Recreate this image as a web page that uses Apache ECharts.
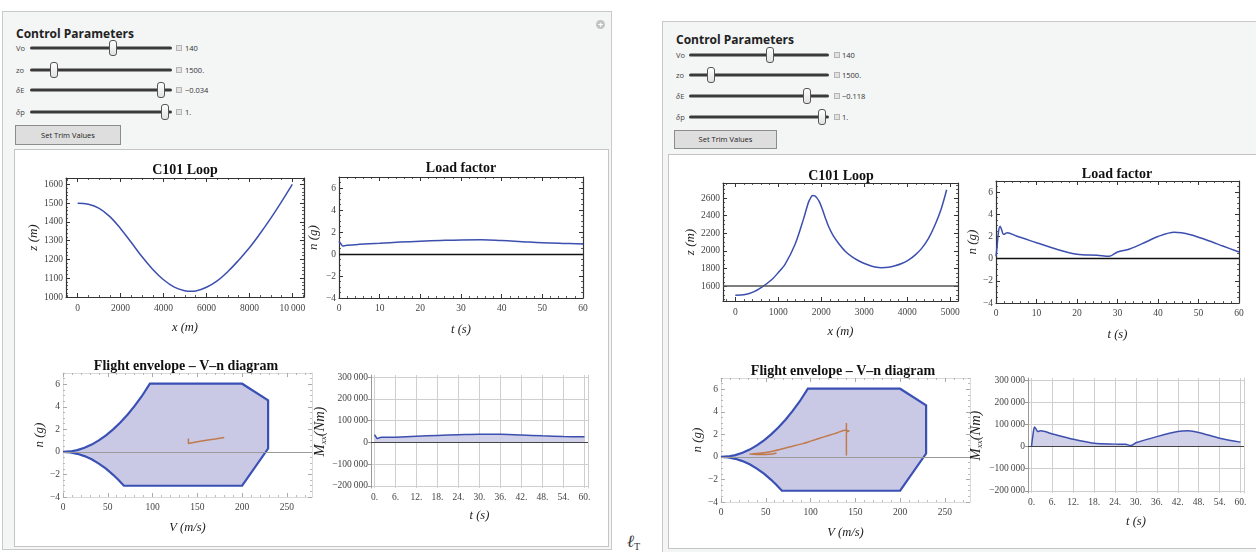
<!DOCTYPE html>
<html><head><meta charset="utf-8">
<script src="https://cdn.jsdelivr.net/npm/echarts@6.0.0/dist/echarts.min.js"></script>
<style>
html,body{margin:0;padding:0;background:#fff;}
body{width:1256px;height:552px;overflow:hidden;position:relative;font-family:"Open Sans","Noto Sans",sans-serif;}
.panel{position:absolute;background:#f4f5f5;border:1px solid #c9c9c9;box-sizing:border-box;}
.inner{position:absolute;background:#fff;border:1px solid #c4c4c4;box-sizing:border-box;}
.ptitle{position:absolute;font-weight:700;font-size:12px;color:#222;white-space:nowrap;line-height:14px;}
.lbl{position:absolute;font-size:7.5px;color:#444;transform:translateY(-50%);line-height:10px;}
.track{position:absolute;height:3px;background:#3a3a3a;border-radius:2px;transform:translateY(-50%);}
.thumb{position:absolute;width:8px;height:16px;border:1px solid #555;border-radius:3px;background:linear-gradient(#fff,#e2e2e2);box-sizing:border-box;transform:translate(-50%,-50%);}
.box{position:absolute;width:6px;height:6px;border:1px solid #b5b5b5;background:#e2e2e2;box-sizing:border-box;transform:translateY(-50%);}
.val{position:absolute;font-size:7.5px;color:#333;transform:translateY(-50%);line-height:10px;white-space:nowrap;}
.btn{position:absolute;background:#dedede;border:1px solid #8c8c8c;box-sizing:border-box;font-size:7.5px;color:#222;text-align:center;}
.plus{position:absolute;width:9px;height:9px;border-radius:50%;background:#c2c2c2;color:#fff;font-size:9px;line-height:9px;text-align:center;font-weight:700;}
#c{position:absolute;left:0;top:0;width:1256px;height:552px;}
</style></head><body>
<!-- left panel -->
<div class="panel" style="left:2px;top:11px;width:610px;height:539px"></div>
<div class="plus" style="left:596px;top:20px">+</div>
<div class="ptitle" style="left:16px;top:27px">Control Parameters</div>
<div class="lbl" style="left:16px;top:48px">Vo</div>
<div class="track" style="left:30px;top:48px;width:142px"></div>
<div class="thumb" style="left:113px;top:48px"></div>
<div class="box" style="left:176px;top:48px"></div>
<div class="val" style="left:185px;top:48px">140</div>
<div class="lbl" style="left:16px;top:70px">zo</div>
<div class="track" style="left:30px;top:70px;width:142px"></div>
<div class="thumb" style="left:54px;top:70px"></div>
<div class="box" style="left:176px;top:70px"></div>
<div class="val" style="left:185px;top:70px">1500.</div>
<div class="lbl" style="left:16px;top:90px"><i>δ</i>E</div>
<div class="track" style="left:30px;top:90px;width:142px"></div>
<div class="thumb" style="left:161px;top:90px"></div>
<div class="box" style="left:176px;top:90px"></div>
<div class="val" style="left:185px;top:90px">&minus;0.034</div>
<div class="lbl" style="left:16px;top:112px"><i>δ</i>p</div>
<div class="track" style="left:30px;top:112px;width:142px"></div>
<div class="thumb" style="left:165px;top:112px"></div>
<div class="box" style="left:176px;top:112px"></div>
<div class="val" style="left:185px;top:112px">1.</div>
<div class="btn" style="left:15px;top:125px;width:106px;height:20px;line-height:18px">Set Trim Values</div>
<div class="inner" style="left:14px;top:149px;width:595px;height:398px"></div>

<!-- right panel -->
<div class="panel" style="left:662px;top:21px;width:600px;height:540px"></div>
<div class="ptitle" style="left:676px;top:33px">Control Parameters</div>
<div class="lbl" style="left:676px;top:55px">Vo</div>
<div class="track" style="left:689px;top:55px;width:140px"></div>
<div class="thumb" style="left:770px;top:55px"></div>
<div class="box" style="left:834px;top:55px"></div>
<div class="val" style="left:842px;top:55px">140</div>
<div class="lbl" style="left:676px;top:75px">zo</div>
<div class="track" style="left:689px;top:75px;width:140px"></div>
<div class="thumb" style="left:711px;top:75px"></div>
<div class="box" style="left:834px;top:75px"></div>
<div class="val" style="left:842px;top:75px">1500.</div>
<div class="lbl" style="left:676px;top:96px"><i>δ</i>E</div>
<div class="track" style="left:689px;top:96px;width:140px"></div>
<div class="thumb" style="left:807px;top:96px"></div>
<div class="box" style="left:834px;top:96px"></div>
<div class="val" style="left:842px;top:96px">&minus;0.118</div>
<div class="lbl" style="left:676px;top:117px"><i>δ</i>p</div>
<div class="track" style="left:689px;top:117px;width:140px"></div>
<div class="thumb" style="left:822px;top:117px"></div>
<div class="box" style="left:834px;top:117px"></div>
<div class="val" style="left:842px;top:117px">1.</div>
<div class="btn" style="left:674px;top:130px;width:103px;height:19px;line-height:17px">Set Trim Values</div>
<div class="inner" style="left:668px;top:154px;width:600px;height:395px"></div>

<div style="position:absolute;left:627px;top:532px;font:italic 17px 'Liberation Serif',serif;color:#333">ℓ<span style="font-size:10px;font-style:normal;vertical-align:-3px">T</span></div>

<div id="c"></div>
<script>
// ---------------- data ----------------
const loopXA = [0,500,1000,1500,2000,2500,3000,3500,4000,4500,5000,5250,5500,6000,6500,7000,7500,8000,8500,9000,9500,10000];
const loopZA = [1500,1494,1472,1428,1364,1290,1214,1147,1092,1053,1033,1030,1032,1052,1086,1136,1196,1262,1338,1420,1508,1600];
const loopXB = [0,231,425,618,850,1000,1160,1393,1587,1650,1703,1750,1800,1850,1896,1950,2012,2090,2167,2280,2399,2550,2709,2900,3096,3250,3406,3560,3715,3870,4025,4180,4334,4490,4644,4790,4915];
const loopZB = [1497,1505,1535,1589,1676,1755,1851,2079,2364,2470,2554,2600,2630,2624,2602,2562,2490,2380,2280,2170,2088,2000,1935,1880,1840,1818,1809,1814,1832,1858,1896,1952,2029,2140,2295,2480,2694];

const lfTA = [0,0.5,1,1.5,2,5,10,15,20,25,30,35,40,45,50,55,60];
const lfNA = [1.16,0.9,0.72,0.76,0.8,0.88,0.98,1.08,1.16,1.23,1.28,1.29,1.22,1.12,1.02,0.96,0.92];
const lfTB = [0,0.3,0.6,1,1.4,1.8,2.3,2.8,5,10,15,20,25,28,30,33,37,40,44,48,52,56,60];
const lfNB = [0.2,1.2,2.4,2.93,2.6,2.2,2.25,2.34,2.04,1.44,0.84,0.39,0.3,0.21,0.6,0.87,1.5,2.0,2.37,2.16,1.68,1.14,0.6];

const envV = [0,8,16,24,32,40,48,56,64,72,80,88,97,200,229,229,200,68,62,56,48,40,32,24,16,8,0];
const envN = [0,0.04,0.16,0.37,0.65,1.02,1.47,2.0,2.61,3.3,4.08,4.94,6.05,6.05,4.57,0.3,-3.0,-3.0,-2.49,-2.03,-1.49,-1.04,-0.66,-0.37,-0.17,-0.04,0];

const trajVA = [140,140,141,150,160,170,180];
const trajNA = [1.19,0.74,0.78,0.9,1.03,1.15,1.28];
const trajVB = [140,140,140,143,138,130,120,110,100,92,80,70,60,50,40,32,40,50,57,62];
const trajNB = [0.12,3.0,2.2,2.3,2.37,2.15,1.9,1.65,1.4,1.2,0.95,0.75,0.55,0.4,0.3,0.25,0.22,0.22,0.25,0.35];

const mxTA = [0,0.4,0.8,1.2,2,6,12,18,24,30,36,42,48,54,60];
const mxMA = [35000,26000,18000,20000,23000,24000,28000,32000,35000,37500,37000,34000,30000,27000,25500];
const mxTB = [0,0.4,0.86,1.3,1.8,2.6,6,12,18,24,27,28.5,30,36,42,45,48,54,60];
const mxMB = [0,50000,88000,80000,68000,71000,57000,33000,15000,11000,10000,5000,17000,45000,68000,71000,64000,38000,20000];

const loopXTicksA = [0,2000,4000,6000,8000,10000];
const loopZTicksA = [1000,1100,1200,1300,1400,1500,1600];
const loopXTicksB = [0,1000,2000,3000,4000,5000];
const loopZTicksB = [1600,1800,2000,2200,2400,2600];
const timeTicks = [0,10,20,30,40,50,60];
const nTicks = [-4,-2,0,2,4,6];
const vTicks = [0,50,100,150,200,250];
const mTimeTicks = [0,6,12,18,24,30,36,42,48,54,60];
const mTicks = [-200000,-100000,0,100000,200000,300000];

// ---------------- helpers ----------------
const BLUE = '#3c4fae', FILL = '#c9c9e6', BROWN = '#c07a4c';
const SERIF = '"Liberation Serif","DejaVu Serif",serif';
const grid = [], xAxis = [], yAxis = [], series = [], graphic = [];
const zip = (a,b) => a.map((v,i)=>[v,b[i]]);
function fmtNum(v){
  const s = String(Math.abs(v));
  const o = s.length >= 5 ? s.replace(/\B(?=(\d{3})+(?!\d))/g, '\u2009') : s;
  return (v < 0 ? '\u2212' : '') + o;
}
function minorTicks(min,max,step,majors){
  const r=[]; const s=Math.ceil(min/step);
  for(let k=s;k*step<=max+1e-9;k++){const v=+(k*step).toFixed(6); if(!majors.some(m=>Math.abs(m-v)<1e-9)) r.push(v);}
  return r;
}
const NAME = {fontFamily:SERIF,fontStyle:'italic',fontSize:12.5,color:'#222'};
const LAB = {show:true,color:'#444',fontFamily:SERIF,fontSize:9.5};
function base(gi,min,max,pos){
  return {type:'value',gridIndex:gi,min,max,position:pos,silent:true,
    splitLine:{show:false},axisLine:{show:false,onZero:false},axisTick:{show:false},axisLabel:{show:false}};
}
function addFrame(rect,xr,yr,o){
  const gi=grid.length;
  grid.push({left:rect[0],top:rect[1],width:rect[2],height:rect[3]});
  const xi=xAxis.length, yi=yAxis.length;
  const lc=o.lineColor||'#333', tc=o.tickColor||'#333';
  const xMin=minorTicks(xr[0],xr[1],o.xStep,o.xMajor), yMin=minorTicks(yr[0],yr[1],o.yStep,o.yMajor);
  [['bottom',true],['top',false]].forEach(([pos,lab])=>{
    const a=base(gi,xr[0],xr[1],pos);
    a.axisLine={show:true,onZero:false,lineStyle:{color:lc,width:o.lw||1.2}};
    a.axisTick={show:true,inside:true,length:4,customValues:o.xMajor,lineStyle:{color:tc,width:1}};
    if(lab){
      a.axisLabel=Object.assign({},LAB,{customValues:o.xMajor,formatter:o.xFmt||fmtNum,margin:o.xMargin||5});
      a.name=o.xName; a.nameLocation='middle'; a.nameGap=o.xGap; a.nameTextStyle=NAME;
    }
    xAxis.push(a);
    const m=base(gi,xr[0],xr[1],pos);
    m.axisTick={show:true,inside:true,length:2,customValues:xMin,lineStyle:{color:tc,width:0.8}};
    xAxis.push(m);
  });
  [['left',true],['right',false]].forEach(([pos,lab])=>{
    const a=base(gi,yr[0],yr[1],pos);
    a.axisLine={show:true,onZero:false,lineStyle:{color:lc,width:o.lw||1.2}};
    a.axisTick={show:true,inside:true,length:4,customValues:o.yMajor,lineStyle:{color:tc,width:1}};
    if(lab){
      a.axisLabel=Object.assign({},LAB,{customValues:o.yMajor,formatter:o.yFmt||fmtNum,margin:o.yMargin||3});
      a.name=o.yName; a.nameLocation='middle'; a.nameGap=o.yGap; a.nameTextStyle=Object.assign({},NAME,{fontSize:13});
    }
    yAxis.push(a);
    const m=base(gi,yr[0],yr[1],pos);
    m.axisTick={show:true,inside:true,length:2,customValues:yMin,lineStyle:{color:tc,width:0.8}};
    yAxis.push(m);
  });
  return {xi,yi};
}
function addMxx(rect,xr,yr,o){
  const gi=grid.length;
  grid.push({left:rect[0],top:rect[1],width:rect[2],height:rect[3]});
  const xi=xAxis.length, yi=yAxis.length;
  const xa=base(gi,xr[0],xr[1],'bottom');
  xa.axisTick={show:false,customValues:mTimeTicks};
  xa.splitLine={show:true,lineStyle:{color:'#cfcfcf',width:1}};
  xa.axisLabel=Object.assign({},LAB,{customValues:mTimeTicks,formatter:v=>v+'.',margin:4});
  xa.name='t (s)'; xa.nameLocation='middle'; xa.nameGap=o.xGap; xa.nameTextStyle=NAME;
  xAxis.push(xa);
  const ya=base(gi,yr[0],yr[1],'left');
  ya.axisLine={show:true,onZero:false,lineStyle:{color:'#9a9a9a',width:1}};
  ya.axisTick={show:true,inside:false,length:3,customValues:mTicks,lineStyle:{color:'#9a9a9a'}};
  ya.splitLine={show:true,lineStyle:{color:'#cfcfcf',width:1}};
  ya.axisLabel=Object.assign({},LAB,{customValues:mTicks,formatter:fmtNum,margin:3});
  ya.name='{i|M}{s|xx}{i|(Nm)}'; ya.nameLocation='middle'; ya.nameGap=o.yGap;
  ya.nameTextStyle={rich:{i:{fontFamily:SERIF,fontStyle:'italic',fontSize:14.5,color:'#222'},
    s:{fontFamily:SERIF,fontStyle:'italic',fontSize:9,color:'#222',verticalAlign:'bottom'}}};
  yAxis.push(ya);
  const yr2=base(gi,yr[0],yr[1],'right');
  yr2.axisLine={show:true,onZero:false,lineStyle:{color:'#cfcfcf',width:1}};
  yAxis.push(yr2);
  return {xi,yi};
}
function title(text,x,y){
  graphic.push({type:'text',x,y,silent:true,style:{text,fill:'#111',font:'bold 14px '+SERIF,align:'center',verticalAlign:'middle'}});
}
const zeroLine=(val,color,w)=>({silent:true,symbol:['none','none'],label:{show:false},emphasis:{disabled:true},
  lineStyle:{color,width:w,type:'solid'},data:[{yAxis:val}]});
function lineSeries(ax,data,extra){
  return Object.assign({type:'line',xAxisIndex:ax.xi,yAxisIndex:ax.yi,data,showSymbol:false,symbol:'none',smooth:0.4,
    silent:true,animation:false,lineStyle:{color:BLUE,width:1.5},itemStyle:{color:BLUE}},extra||{});
}
function envelope(ax){
  series.push({type:'custom',xAxisIndex:ax.xi,yAxisIndex:ax.yi,data:[[0,0]],silent:true,animation:false,z:1,
    renderItem:(p,api)=>({type:'polygon',shape:{points:envV.map((v,i)=>api.coord([v,envN[i]]))},
      style:{fill:FILL,stroke:'#3a50b4',lineWidth:2.2,lineJoin:'miter'}}),
    markLine:zeroLine(0,'#9a9a9a',1.2)});
}

// ---------------- left panel ----------------
const A = addFrame([66,178,238,119],[-545,10545],[1000,1634],{xMajor:loopXTicksA,yMajor:loopZTicksA,xStep:500,yStep:20,
  xName:'x (m)',yName:'z (m)',xGap:24,yGap:25,xMargin:6});
series.push(lineSeries(A,zip(loopXA,loopZA)));
title('C101 Loop',185,170);

const B = addFrame([339,177,244,121],[0,60],[-4,7],{xMajor:timeTicks,yMajor:nTicks,xStep:2,yStep:0.5,
  xName:'t (s)',yName:'n (g)',xGap:25,yGap:19});
series.push(lineSeries(B,zip(lfTA,lfNA),{markLine:zeroLine(0,'#111',1.3)}));
title('Load factor',461,168);

const C = addFrame([63,373,249,124],[0,278],[-4,7],{xMajor:vTicks,yMajor:nTicks,xStep:10,yStep:0.5,
  lineColor:'#dadada',tickColor:'#aaaaaa',lw:1,xName:'V (m/s)',yName:'n (g)',xGap:24,yGap:14});
envelope(C);
series.push(lineSeries(C,zip(trajVA,trajNA),{smooth:false,z:3,lineStyle:{color:BROWN,width:1.5}}));
title('Flight envelope \u2013 V\u2013n diagram',186,366);

const D = addMxx([371,375,217,113],[-1,61],[-210000,310000],{xGap:21,yGap:43});
series.push(lineSeries(D,zip(mxTA,mxMA),{smooth:0.3,areaStyle:{color:FILL,opacity:0.85},markLine:zeroLine(0,'#444',1.2)}));

// ---------------- right panel ----------------
const E = addFrame([723,183,235,118],[-286,5179],[1432,2771],{xMajor:loopXTicksB,yMajor:loopZTicksB,xStep:200,yStep:50,
  xName:'x (m)',yName:'z (m)',xGap:24,yGap:25,xMargin:6});
series.push(lineSeries(E,zip(loopXB,loopZB),{smooth:0.3,markLine:zeroLine(1600,'#555',1.5)}));
title('C101 Loop',841,176);

const F = addFrame([996,181,243,122],[0,60],[-4,7],{xMajor:timeTicks,yMajor:nTicks,xStep:2,yStep:0.5,
  xName:'t (s)',yName:'n (g)',xGap:25,yGap:17});
series.push(lineSeries(F,zip(lfTB,lfNB),{smooth:0.3,markLine:zeroLine(0,'#111',1.3)}));
title('Load factor',1117,174);

const G = addFrame([721,378,249,124],[0,278],[-4,7],{xMajor:vTicks,yMajor:nTicks,xStep:10,yStep:0.5,
  lineColor:'#dadada',tickColor:'#aaaaaa',lw:1,xName:'V (m/s)',yName:'n (g)',xGap:24,yGap:16});
envelope(G);
series.push(lineSeries(G,zip(trajVB,trajNB),{smooth:0.2,z:3,lineStyle:{color:BROWN,width:1.5}}));
title('Flight envelope \u2013 V\u2013n diagram',843,371);

const H = addMxx([1028,378,216,115],[-1,61],[-210000,310000],{xGap:22,yGap:44});
series.push(lineSeries(H,zip(mxTB,mxMB),{smooth:0.3,areaStyle:{color:FILL,opacity:0.85},markLine:zeroLine(0,'#444',1.2)}));

const chart = echarts.init(document.getElementById('c'), null, {renderer:'canvas'});
chart.setOption({animation:false,backgroundColor:'transparent',grid,xAxis,yAxis,series,graphic});
</script>
</body></html>
